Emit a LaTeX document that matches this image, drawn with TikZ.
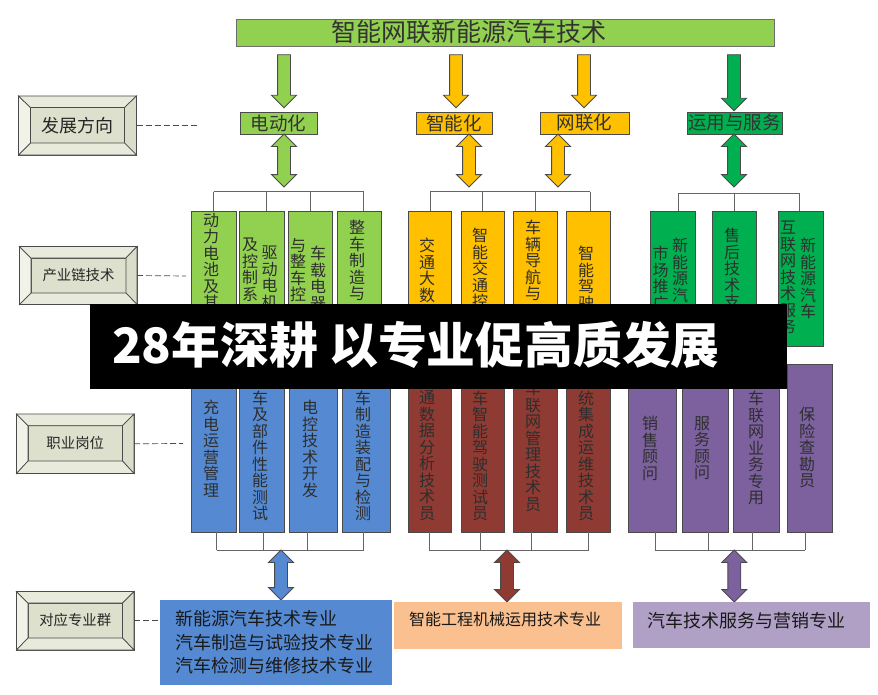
\documentclass[tikz,border=0pt]{standalone}
\usepackage{fontspec}
\setmainfont{Noto Sans CJK SC}
\usetikzlibrary{shapes.arrows}
\XeTeXlinebreaklocale "zh"
\XeTeXlinebreakskip=0pt plus 1pt
\definecolor{lime}{HTML}{92D050}
\definecolor{amber}{HTML}{FFC000}
\definecolor{leaf}{HTML}{00B050}
\definecolor{steel}{HTML}{558AD2}
\definecolor{brick}{HTML}{8F3A32}
\definecolor{plum}{HTML}{7D619F}
\definecolor{peach}{HTML}{FAC08F}
\definecolor{lilac}{HTML}{B0A0C6}
\definecolor{edgegray}{HTML}{4A4A4A}
\definecolor{bevL}{HTML}{F1F3E9}
\definecolor{bevT}{HTML}{E8EADC}
\definecolor{bevR}{HTML}{DADDC9}
\definecolor{bevC}{HTML}{DDE0CD}
\newcommand{\bevelfaces}[2]{%
	\draw[edgegray,line width=.7pt,fill=bevL] (#1.north west) -- (#2.north west) -- (#2.south west) -- (#1.south west) -- cycle;
	\draw[edgegray,line width=.7pt,fill=bevT] (#1.north west) -- (#2.north west) -- (#2.north east) -- (#1.north east) -- cycle;
	\draw[edgegray,line width=.7pt,fill=bevR] (#1.north east) -- (#2.north east) -- (#2.south east) -- (#1.south east) -- cycle;
	\draw[edgegray,line width=.7pt,fill=bevT] (#1.south west) -- (#2.south west) -- (#2.south east) -- (#1.south east) -- cycle;
}

\begin{document}
\begin{tikzpicture}[x=1pt,y=-1pt,
	boxed/.style={draw=edgegray,line width=.9pt,inner sep=0pt,outer sep=0pt},
	tag/.style={boxed,minimum height=22pt,font=\fontsize{18.5}{18.5}\selectfont,text=black!80},
	vtext/.style={font=\fontsize{16}{16.5}\selectfont,align=center,text width=16pt,inner sep=0pt,anchor=north,text=black!82},
	downarrow/.style={boxed,single arrow,shape border rotate=270,single arrow head extend=6pt,inner sep=6pt,minimum width=24pt},
	twoarrow/.style={boxed,double arrow,shape border rotate=90,double arrow head extend=6pt,inner sep=6pt,minimum width=24pt},
	bevelout/.style={draw=edgegray,line width=.9pt,inner sep=0pt,outer sep=0pt,fill=bevT},
	bevelin/.style={draw=edgegray,line width=.9pt,inner sep=0pt,outer sep=0pt,fill=bevC,text=black!85},
	tie/.style={draw=edgegray!85,line width=.9pt},
	lead/.style={draw=edgegray,line width=.7pt,dash pattern=on 6pt off 3pt},
	major/.style={inner sep=0pt,outer sep=0pt}]
	\useasboundingbox (0,0) rectangle (878,694);

	% top row
	\draw (505,32.5) node(top) [boxed,fill=lime,draw=edgegray!80,minimum width=538pt,minimum height=27pt] {};
	\draw (469,32.5) node(toptext) [font=\fontsize{25}{25}\selectfont,text=black!80,inner sep=0pt] {智能网联新能源汽车技术};

	\draw (284,78) node(dn1) [downarrow,fill=lime,minimum height=53pt] {};
	\draw (456,78) node(dn2) [downarrow,fill=amber,minimum height=53pt] {};
	\draw (584,78) node(dn3) [downarrow,fill=amber,minimum height=53pt] {};
	\draw (734,79.5) node(dn4) [downarrow,fill=leaf,minimum height=56pt] {};

	\draw (278.5,123) node(L1) [tag,fill=lime,minimum width=77pt] {电动化};
	\draw (454,123) node(L2) [tag,fill=amber,minimum width=76pt] {智能化};
	\draw (584.5,123) node(L3) [tag,fill=amber,minimum width=89pt] {网联化};
	\draw (734.5,123) node(L4) [tag,fill=leaf,minimum width=95pt] {运用与服务};

	\draw (284,160.5) node(up1) [twoarrow,fill=lime,minimum height=53pt] {};
	\draw (469,160.5) node(up2) [twoarrow,fill=amber,minimum height=53pt] {};
	\draw (558,160.5) node(up3) [twoarrow,fill=amber,minimum height=53pt] {};
	\draw (734,160.5) node(up4) [twoarrow,fill=leaf,minimum height=53pt] {};

	% industry chain columns
	\draw (213.75,278.5) node(G1) [boxed,fill=lime,minimum width=44.5pt,minimum height=135pt] {};
	\draw (262,278.5) node(G2) [boxed,fill=lime,minimum width=45pt,minimum height=135pt] {};
	\draw (310.5,278.5) node(G3) [boxed,fill=lime,minimum width=44pt,minimum height=135pt] {};
	\draw (359.25,278.5) node(G4) [boxed,fill=lime,minimum width=44.5pt,minimum height=135pt] {};
	\draw (429.85,278.5) node(O1) [boxed,fill=amber,minimum width=43.7pt,minimum height=135pt] {};
	\draw (482.85,278.5) node(O2) [boxed,fill=amber,minimum width=43.7pt,minimum height=135pt] {};
	\draw (535.7,278.5) node(O3) [boxed,fill=amber,minimum width=44pt,minimum height=135pt] {};
	\draw (588.7,278.5) node(O4) [boxed,fill=amber,minimum width=44pt,minimum height=135pt] {};
	\draw (672.75,278.5) node(D1) [boxed,fill=leaf,minimum width=44.5pt,minimum height=135pt] {};
	\draw (734,278.5) node(D2) [boxed,fill=leaf,minimum width=44pt,minimum height=135pt] {};
	\draw (800.85,278.5) node(D3) [boxed,fill=leaf,minimum width=44.3pt,minimum height=135pt] {};

	\node (g1t) [vtext] at (211,213) {动力电池及其};
	\node (g2r) [vtext] at (269.7,246) {驱动电机};
	\node (g2l) [vtext] at (250,238) {及控制系};
	\node (g3r) [vtext] at (318,246) {车载电器};
	\node (g3l) [vtext] at (298,238) {与整车控};
	\node (g4t) [vtext] at (357,220) {整车制造与};
	\node (o1t) [vtext] at (427,238) {交通大数};
	\node (o2t) [vtext] at (480,228) {智能交通控};
	\node (o3t) [vtext] at (533,220) {车辆导航与};
	\node (o4t) [vtext] at (586,246) {智能驾驶};
	\node (d1r) [vtext] at (680,238) {新能源汽};
	\node (d1l) [vtext] at (660.7,246) {市场推广};
	\node (d2t) [vtext] at (732,228) {售后技术支};
	\node (d3r) [vtext] at (808,238) {新能源汽车};
	\node (d3l) [vtext] at (788,221) {互联网技术服务};

	% job columns
	\draw (213.75,448) node(B1) [boxed,fill=steel,minimum width=44.5pt,minimum height=168pt] {};
	\draw (262,448) node(B2) [boxed,fill=steel,minimum width=45pt,minimum height=168pt] {};
	\draw (313,448) node(B3) [boxed,fill=steel,minimum width=48pt,minimum height=168pt] {};
	\draw (366,448) node(B4) [boxed,fill=steel,minimum width=48pt,minimum height=168pt] {};
	\draw (429.85,448) node(R1) [boxed,fill=brick,minimum width=43.7pt,minimum height=168pt] {};
	\draw (482.85,448) node(R2) [boxed,fill=brick,minimum width=43.7pt,minimum height=168pt] {};
	\draw (535.7,448) node(R3) [boxed,fill=brick,minimum width=44pt,minimum height=168pt] {};
	\draw (588.7,448) node(R4) [boxed,fill=brick,minimum width=44pt,minimum height=168pt] {};
	\draw (652.5,448) node(P1) [boxed,fill=plum,minimum width=48.4pt,minimum height=168pt] {};
	\draw (705,448) node(P2) [boxed,fill=plum,minimum width=46pt,minimum height=168pt] {};
	\draw (756.5,448) node(P3) [boxed,fill=plum,minimum width=46.4pt,minimum height=168pt] {};
	\draw (809.85,448) node(P4) [boxed,fill=plum,minimum width=45.7pt,minimum height=168pt] {};

	\node (b1t) [vtext] at (211,400) {充电运营管理};
	\node (b2t) [vtext] at (260,390.7) {车及部件性能测试};
	\node (b3t) [vtext] at (310,400) {电控技术开发};
	\node (b4t) [vtext] at (363,390.7) {车制造装配与检测};
	\node (r1t) [vtext] at (427,390.7) {通数据分析技术员};
	\node (r2t) [vtext] at (480,390.7) {车智能驾驶测试员};
	\node (r3t) [vtext] at (533,381) {车联网管理技术员};
	\node (r4t) [vtext] at (586,390.7) {统集成运维技术员};
	\node (p1t) [vtext] at (650,416) {销售顾问};
	\node (p2t) [vtext] at (702,416) {服务顾问};
	\node (p3t) [vtext] at (756,391) {车联网业务专用};
	\node (p4t) [vtext] at (807,407) {保险查勘员};

	% ties above the columns
	\coordinate (ga) at (213.5,191.5);
	\coordinate (gb) at (266.5,191.5);
	\coordinate (gc) at (310.5,191.5);
	\coordinate (gd) at (363.5,191.5);
	\draw[tie] (ga) -- (gd) (ga) -- (ga |- G1.north) (gb) -- (gb |- G2.north) (gc) -- (gc |- G3.north) (gd) -- (gd |- G4.north);
	\coordinate (oa) at (430,191.5);
	\coordinate (ob) at (482.5,191.5);
	\coordinate (oc) at (535.5,191.5);
	\coordinate (od) at (590,191.5);
	\draw[tie] (oa) -- (od) (oa) -- (oa |- O1.north) (ob) -- (ob |- O2.north) (oc) -- (oc |- O3.north) (od) -- (od |- O4.north);
	\coordinate (da) at (678,193);
	\coordinate (db) at (734,193);
	\coordinate (dc) at (799,193);
	\draw[tie] (da) -- (dc) (da) -- (da |- D1.north) (db) -- (db |- D2.north) (dc) -- (dc |- D3.north);

	% ties below the columns
	\coordinate (ba) at (216.5,550);
	\coordinate (bb) at (263.3,550);
	\coordinate (bc) at (307.7,550);
	\coordinate (bd) at (363.7,550);
	\draw[tie] (ba) -- (bd) (ba) -- (ba |- B1.south) (bb) -- (bb |- B2.south) (bc) -- (bc |- B3.south) (bd) -- (bd |- B4.south);
	\coordinate (ra) at (429,550);
	\coordinate (rb) at (480.3,550);
	\coordinate (rc) at (531,550);
	\coordinate (rd) at (588.7,550);
	\draw[tie] (ra) -- (rd) (ra) -- (ra |- R1.south) (rb) -- (rb |- R2.south) (rc) -- (rc |- R3.south) (rd) -- (rd |- R4.south);
	\coordinate (pa) at (655,550);
	\coordinate (pb) at (708,550);
	\coordinate (pc) at (752.3,550);
	\coordinate (pd) at (805.3,550);
	\draw[tie] (pa) -- (pd) (pa) -- (pa |- P1.south) (pb) -- (pb |- P2.south) (pc) -- (pc |- P3.south) (pd) -- (pd |- P4.south);

	\draw (281,575) node(lo1) [twoarrow,fill=steel,minimum height=50pt] {};
	\draw (507,576) node(lo2) [twoarrow,fill=brick,minimum height=52pt] {};
	\draw (734.3,576) node(lo3) [twoarrow,fill=plum,minimum height=52pt] {};

	% majors
	\draw (276,642.5) node(S1) [major,fill=steel,minimum width=232pt,minimum height=85pt] {};
	\draw (508,625.5) node(S2) [major,fill=peach,minimum width=228pt,minimum height=47pt] {};
	\draw (751.5,625) node(S3) [major,fill=lilac,minimum width=237pt,minimum height=46pt] {};
	\node (s1t) [anchor=west,inner sep=0pt,align=left,font=\fontsize{18}{23.5}\selectfont,text=black!90] at (175,642.5) {新能源汽车技术专业\\汽车制造与试验技术专业\\汽车检测与维修技术专业};
	\node (s2t) [anchor=west,inner sep=0pt,font=\fontsize{16}{16}\selectfont,text=black!90] at (409,619) {智能工程机械运用技术专业};
	\node (s3t) [anchor=west,inner sep=0pt,font=\fontsize{18}{18}\selectfont,text=black!90] at (647,620.5) {汽车技术服务与营销专业};

	% left bevels
	\draw (77.5,125.5) node(fxo) [bevelout,minimum width=118pt,minimum height=59pt] {};
	\draw (77.5,125.25) node(fx) [bevelin,minimum width=94pt,minimum height=35.5pt,font=\fontsize{18}{18}\selectfont] {发展方向};
	\bevelfaces{fxo}{fx}
	\draw (78.25,275.5) node(cyo) [bevelout,minimum width=117.5pt,minimum height=58pt] {};
	\draw (78.5,275.5) node(cy) [bevelin,minimum width=95pt,minimum height=35pt,font=\fontsize{14.4}{14.4}\selectfont] {产业链技术};
	\bevelfaces{cyo}{cy}
	\draw (75.25,443.75) node(gwo) [bevelout,minimum width=117.5pt,minimum height=59.5pt] {};
	\draw (75.25,443.35) node(gw) [bevelin,minimum width=94.5pt,minimum height=35.3pt,font=\fontsize{14.4}{14.4}\selectfont] {职业岗位};
	\bevelfaces{gwo}{gw}
	\draw (75.25,620.75) node(zyo) [bevelout,minimum width=117.5pt,minimum height=58.5pt] {};
	\draw (75.25,620.5) node(zy) [bevelin,minimum width=94.5pt,minimum height=35pt,font=\fontsize{14.4}{14.4}\selectfont] {对应专业群};
	\bevelfaces{zyo}{zy}

	\coordinate (fxend) at (197,125.5);
	\coordinate (cyend) at (186,276);
	\coordinate (gwend) at (183,443.5);
	\draw[lead] (fxo.east) -- (fxend);
	\draw[lead] (cyo.east) -- (cyend);
	\draw[lead] (gwo.east) -- (gwend);
	\draw[lead] (zyo.east) -- (zyo.east -| S1.west);

	% banner
	\draw (438.5,346.5) node(banner) [fill=black,inner sep=0pt,outer sep=0pt,minimum width=697pt,minimum height=85pt] {};
	\node (bannertext) [anchor=west,inner sep=0pt,text=white,font=\fontsize{48.8}{48.8}\selectfont\bfseries] at (112,345) {28年深耕 以专业促高质发展};
\end{tikzpicture}
\end{document}
